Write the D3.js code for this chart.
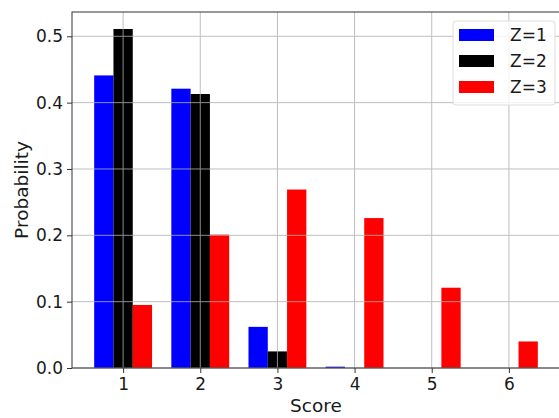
<!DOCTYPE html>
<html>
<head>
<meta charset="utf-8">
<script src="https://cdn.jsdelivr.net/npm/d3@7"></script>
<style>
  body { margin: 0; background: #fff; }
  svg text { font-family: "DejaVu Sans", sans-serif; fill: #1a1a1a; }
</style>
</head>
<body>
<div id="chart"></div>
<script>
const scores = [1, 2, 3, 4, 5, 6];
const z1 = [0.441, 0.421, 0.062, 0.002, 0, 0];
const z2 = [0.511, 0.413, 0.025, 0, 0, 0];
const z3 = [0.095, 0.201, 0.269, 0.226, 0.121, 0.040];
const seriesNames = ["Z=1", "Z=2", "Z=3"];
const seriesColors = ["#0000ff", "#000000", "#ff0000"];
const yTicks = [0.0, 0.1, 0.2, 0.3, 0.4, 0.5];

const width = 559, height = 418;
const margin = { top: 12, right: -1, bottom: 50, left: 72 };

const svg = d3.select("#chart").append("svg")
    .attr("width", width)
    .attr("height", height);

const barW = 0.25;
const x = d3.scaleLinear()
    .domain([0.3375, 6.6625])
    .range([margin.left, width - margin.right]);
const y = d3.scaleLinear()
    .domain([0, 0.5366])
    .range([height - margin.bottom, margin.top]);

const series = [z1, z2, z3];

// bars
series.forEach((vals, si) => {
    svg.append("g")
        .selectAll("rect")
        .data(vals)
        .join("rect")
        .attr("x", (d, i) => x(scores[i] + (si - 1.5) * barW))
        .attr("width", x(barW) - x(0))
        .attr("y", d => y(d))
        .attr("height", d => y(0) - y(d))
        .attr("fill", seriesColors[si]);
});

// grid on top of bars
const grid = svg.append("g").attr("stroke", "#b0b0b0").attr("stroke-width", 1).attr("opacity", 0.8);
grid.selectAll(".gx").data(scores).join("line")
    .attr("x1", d => x(d)).attr("x2", d => x(d))
    .attr("y1", y.range()[0]).attr("y2", y.range()[1]);
grid.selectAll(".gy").data(yTicks).join("line")
    .attr("y1", d => y(d)).attr("y2", d => y(d))
    .attr("x1", x.range()[0]).attr("x2", x.range()[1]);

// axes
const xAxis = svg.append("g")
    .attr("transform", "translate(0," + y(0) + ")")
    .call(d3.axisBottom(x).tickValues(scores).tickFormat(d3.format("d")).tickSizeOuter(0).tickSize(5).tickPadding(5));
const yAxis = svg.append("g")
    .attr("transform", "translate(" + margin.left + ",0)")
    .call(d3.axisLeft(y).tickValues(yTicks).tickFormat(d3.format(".1f")).tickSizeOuter(0).tickSize(5).tickPadding(4));
[xAxis, yAxis].forEach(a => {
    a.select(".domain").remove();
    a.selectAll("line").attr("stroke", "#333");
    a.selectAll("text").attr("font-size", 17).style("fill", "#1a1a1a");
});

// spines
svg.append("rect")
    .attr("x", x.range()[0]).attr("y", y.range()[1])
    .attr("width", x.range()[1] - x.range()[0])
    .attr("height", y.range()[0] - y.range()[1])
    .attr("fill", "none").attr("stroke", "#333").attr("stroke-width", 1);

// labels
svg.append("text")
    .attr("x", (x.range()[0] + x.range()[1]) / 2)
    .attr("y", 412)
    .attr("text-anchor", "middle")
    .attr("font-size", 18.5)
    .text("Score");
svg.append("text")
    .attr("transform", "translate(28," + ((y.range()[0] + y.range()[1]) / 2) + ") rotate(-90)")
    .attr("text-anchor", "middle")
    .attr("font-size", 18.5)
    .text("Probability");

// legend
const legend = svg.append("g").attr("transform", "translate(453,21)");
legend.append("rect")
    .attr("width", 102).attr("height", 84).attr("rx", 3)
    .attr("fill", "#fff").attr("fill-opacity", 0.8)
    .attr("stroke", "#ddd");
seriesNames.forEach((name, i) => {
    const row = legend.append("g").attr("transform", "translate(0," + (14 + i * 26) + ")");
    row.append("rect")
        .attr("x", 6).attr("y", -6).attr("width", 35).attr("height", 12)
        .attr("fill", seriesColors[i]);
    row.append("text")
        .attr("x", 57).attr("y", 6)
        .attr("font-size", 17)
        .text(name);
});
</script>
</body>
</html>
